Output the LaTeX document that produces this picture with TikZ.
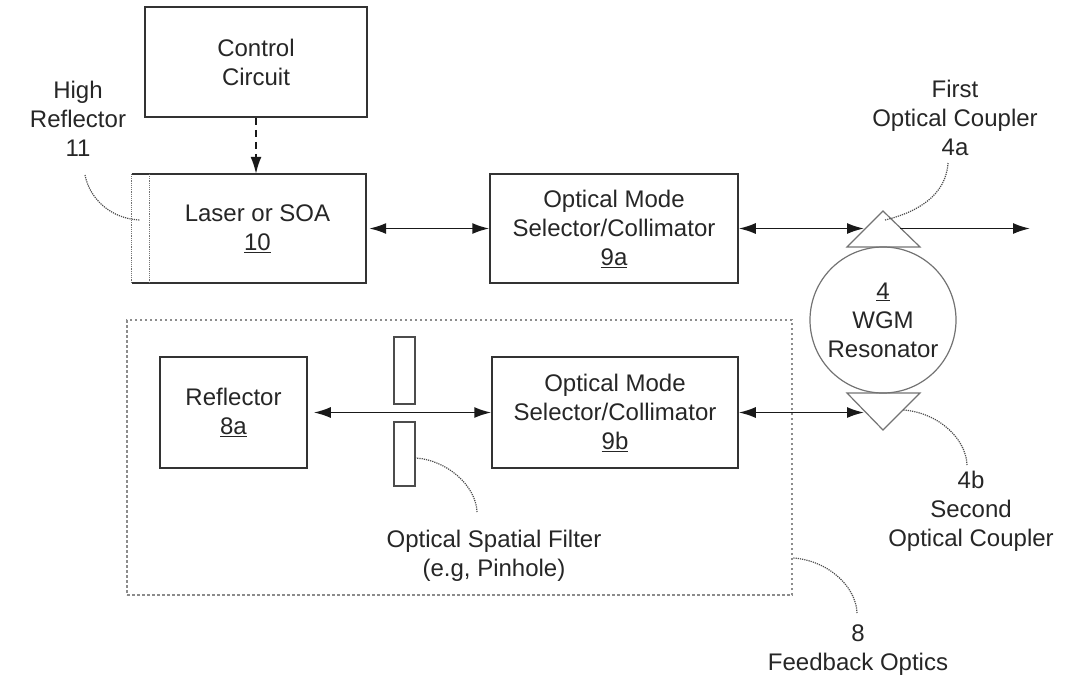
\documentclass[tikz,border=0pt]{standalone}
\usepackage{fontspec}
\setmainfont{Liberation Sans}
\usetikzlibrary{arrows.meta}
\begin{document}
\begin{tikzpicture}[x=1pt,y=-1pt,
  every node/.style={font=\fontsize{24}{29}\selectfont, text=black!85},
  blk/.style={draw=black!80, line width=1.5pt, rectangle, inner sep=0pt, align=center},
  lbl/.style={align=center, inner sep=0pt},
  lead/.style={draw=black!70, line width=1.2pt, densely dotted},
  biarrow/.style={draw=black!90, line width=1.7pt, {Latex[length=17pt,width=11pt]}-{Latex[length=17pt,width=11pt]}},
  onearrow/.style={draw=black!90, line width=1.7pt, -{Latex[length=17pt,width=11pt]}},
  ctlarrow/.style={draw=black!90, line width=1.7pt, -{Latex[length=17pt,width=11pt]}, dash pattern=on 7pt off 5pt},
  optic/.style={draw=black!55, line width=1.2pt},
  group/.style={draw=black!45, line width=1.2pt, dash pattern=on 2.5pt off 2.5pt, inner sep=0pt}
]
\useasboundingbox (0,0) rectangle (1076,675);

% feedback optics enclosure
\node[group, minimum width=665pt, minimum height=275pt] (fb) at (459.5,457.5) {};

% control and laser
\node[blk, minimum width=222pt, minimum height=110pt] (ctrl) at (256,62) {Control\\Circuit};
\node[lbl, minimum width=217pt, minimum height=109pt] (laser) at (257.5,228.5) {Laser or SOA\\\underline{10}};
\node[inner sep=0pt, minimum width=17pt, minimum height=109pt] (hr) at (140.5,228.5) {};
\draw[line width=1.5pt, black!80] (hr.north west) -- (laser.north east) -- (laser.south east) -- (hr.south west);
\draw[black!55, line width=1.2pt, densely dotted] (hr.north west) -- (hr.south west) (hr.north east) -- (hr.south east);

% mode selectors and reflector
\node[blk, minimum width=248pt, minimum height=109pt] (msa) at (614,228.5) {Optical Mode\\Selector/Collimator\\\underline{9a}};
\node[blk, minimum width=246pt, minimum height=111pt] (msb) at (615,412.5) {Optical Mode\\Selector/Collimator\\\underline{9b}};
\node[blk, minimum width=147pt, minimum height=111pt] (refl) at (233.5,412.5) {Reflector\\\underline{8a}};

% spatial filter halves
\node[draw=black!70, line width=1.2pt, inner sep=0pt, minimum width=21pt, minimum height=67pt] (fu) at (404.5,370.5) {};
\node[draw=black!70, line width=1.2pt, inner sep=0pt, minimum width=21pt, minimum height=64pt] (fl) at (404.5,454) {};

% resonator and couplers
\node[circle, optic, align=center, inner sep=0pt, minimum size=146pt] (wgm) at (883,320) {\underline{4}\\WGM\\Resonator};
\draw[optic] (847,247) -- (883,211) -- (920,247) -- cycle;
\draw[optic] (847,393) -- (883,430) -- (920,393) -- cycle;
\coordinate (cainw) at (864,228.5);
\coordinate (caine) at (900,228.5);
\coordinate (cbw) at (864,412.5);
\coordinate (outp) at (1030,228.5);

% beams
\draw[ctlarrow] (ctrl.south) -- (ctrl.south |- laser.north);
\draw[biarrow, shorten <=3pt] (laser.east) -- (msa.west);
\draw[biarrow] (msa.east) -- (cainw);
\draw[onearrow] (caine) -- (outp);
\draw[biarrow, shorten <=6pt] (refl.east) -- (msb.west);
\draw[biarrow] (msb.east) -- (cbw);

% labels
\node[lbl] (hrl) at (78,119) {High\\Reflector\\11};
\node[lbl] (cal) at (955,118) {First\\Optical Coupler\\4a};
\node[lbl] (cbl) at (971,511) {4b\\Second\\Optical Coupler};
\node[lbl] (fbl) at (858,650) {8\\Feedback Optics};
\node[lbl] (fil) at (494,556) {Optical Spatial Filter\\(e.g, Pinhole)};

% leader lines
\coordinate (hra) at (85,175);  \coordinate (hrb) at (140,220);
\coordinate (caa) at (948,163); \coordinate (cab) at (885,220);
\coordinate (cba) at (967,465); \coordinate (cbb) at (903,410);
\coordinate (fba) at (857,613); \coordinate (fbb) at (793,558);
\coordinate (fia) at (477,512); \coordinate (fib) at (416,458);
\draw[lead] (hra) .. controls (90,200) and (112,219) .. (hrb);
\draw[lead] (caa) .. controls (946,195) and (918,212) .. (cab);
\draw[lead] (cba) .. controls (966,437) and (936,412) .. (cbb);
\draw[lead] (fba) .. controls (856,585) and (826,560) .. (fbb);
\draw[lead] (fia) .. controls (476,485) and (446,460) .. (fib);
\end{tikzpicture}
\end{document}
